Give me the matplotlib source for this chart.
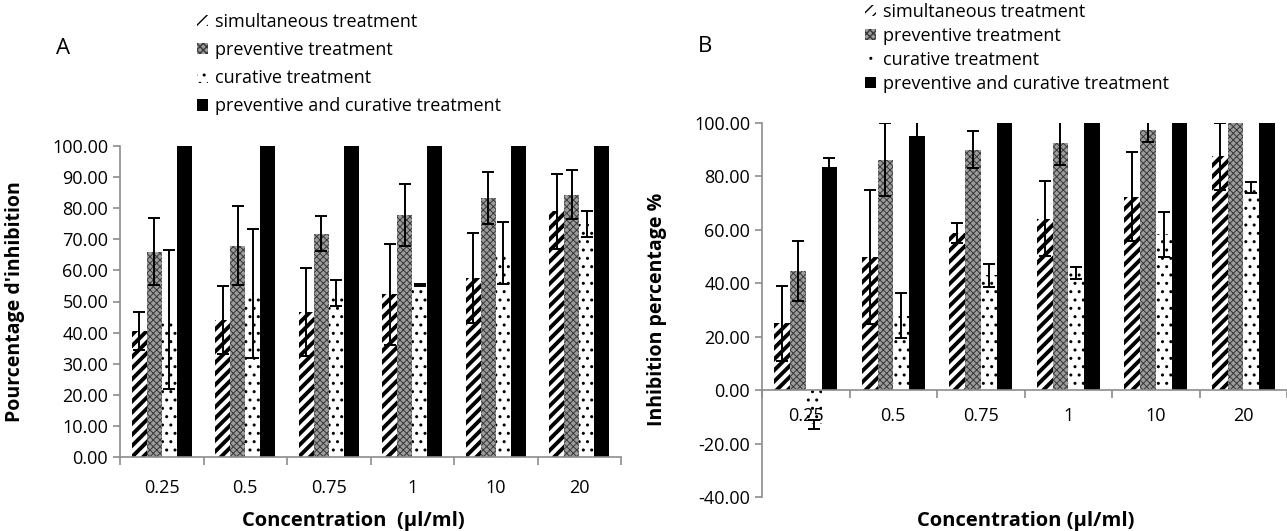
import matplotlib
matplotlib.use('Agg')
import matplotlib.pyplot as plt
import numpy as np

plt.rcParams['font.family'] = ['Open Sans', 'DejaVu Sans']

cats = ['0.25', '0.5', '0.75', '1', '10', '20']
labels = ['simultaneous treatment', 'preventive treatment',
          'curative treatment', 'preventive and curative treatment']

# panel A
sim_a = [40.6, 44.0, 46.6, 52.3, 57.6, 79.0]
sim_a_err = [6.1, 11.0, 14.1, 16.2, 14.5, 12.1]
prev_a = [66.0, 68.0, 71.8, 77.7, 83.2, 84.4]
prev_a_err = [10.8, 12.8, 5.6, 10.0, 8.3, 7.8]
cur_a = [44.2, 52.6, 52.7, 55.3, 65.6, 75.0]
cur_a_err = [22.3, 20.8, 4.2, 0.2, 10.0, 4.2]
pc_a = [100, 100, 100, 100, 100, 100]
pc_a_err = [0, 0, 0, 0, 0, 0]

# panel B
sim_b = [25.0, 49.8, 58.8, 64.2, 72.4, 87.5]
sim_b_err = [14.0, 25.0, 3.9, 14.0, 16.7, 12.5]
prev_b = [44.5, 86.3, 90.0, 92.5, 97.2, 100.0]
prev_b_err = [11.2, 13.7, 6.9, 8.2, 4.4, 0]
cur_b = [-12.7, 27.8, 43.0, 43.8, 58.4, 75.9]
cur_b_err = [1.7, 8.4, 4.3, 2.2, 8.4, 2.2]
pc_b = [83.5, 95.0, 100, 100, 100, 100]
pc_b_err = [3.4, 6.0, 0, 0, 0, 0]

styles = [
    dict(facecolor='white', edgecolor='black', hatch='///', hlw=2.8),
    dict(facecolor='#9c9c9c', edgecolor='#383838', hatch='xxxxx', hlw=0.7),
    dict(facecolor='white', edgecolor='black', hatch='..', hlw=1.0),
    dict(facecolor='black', edgecolor='black', hatch=None, hlw=1.0),
]
grey = '#8c8c8c'


def draw_panel(ax, series, errs, ymin, ymax, ystep):
    x = np.arange(len(cats))
    w = 0.18
    handles = []
    for i, (vals, err) in enumerate(zip(series, errs)):
        st = styles[i]
        off = (i - 1.5) * w
        with plt.rc_context({'hatch.linewidth': st['hlw']}):
            bars = ax.bar(x + off, vals, w, color=st['facecolor'],
                          edgecolor=st['edgecolor'], hatch=st['hatch'],
                          linewidth=0, label=labels[i], zorder=2)
        for b in bars:
            if hasattr(b, 'set_hatch_linewidth'):
                b.set_hatch_linewidth(st['hlw'])
        handles.append(bars)
        err = np.array(err)
        m = err > 0
        ax.errorbar((x + off)[m], np.array(vals)[m], yerr=err[m], fmt='none',
                    ecolor='black', elinewidth=1.4, capsize=4, capthick=1.4,
                    zorder=3)
    ax.set_axisbelow(False)
    ax.set_xlim(-0.5, len(cats) - 0.5)
    ax.set_ylim(ymin, ymax)
    ax.set_yticks(np.arange(ymin, ymax + 0.1, ystep))
    ax.set_yticklabels(['%.2f' % v for v in np.arange(ymin, ymax + 0.1, ystep)])
    ax.set_xticks(x)
    ax.set_xticklabels(cats)
    ax.set_xticks(np.arange(-0.5, len(cats)), minor=True)
    ax.tick_params(axis='x', which='major', length=0, labelsize=13, pad=16)
    ax.tick_params(axis='x', which='minor', length=6, color=grey, width=1.2)
    ax.tick_params(axis='y', length=5, color=grey, width=1.2, labelsize=13)
    for s in ['top', 'right']:
        ax.spines[s].set_visible(False)
    for s in ['left', 'bottom']:
        ax.spines[s].set_color(grey)
        ax.spines[s].set_linewidth(1.2)
    return handles


fig = plt.figure(figsize=(12.87, 5.31), dpi=100)

ax_a = fig.add_axes([120 / 1287, 1 - 457 / 531, 501 / 1287, 311 / 531])
h_a = draw_panel(ax_a, [sim_a, prev_a, cur_a, pc_a],
                 [sim_a_err, prev_a_err, cur_a_err, pc_a_err], 0, 100, 10)
ax_a.set_ylabel("Pourcentage d'inhibition", fontsize=14, fontweight='bold')
ax_a.yaxis.set_label_coords(-0.19, 0.5)

ax_b = fig.add_axes([762 / 1287, 1 - 497 / 531, 525 / 1287, 374 / 531])
h_b = draw_panel(ax_b, [sim_b, prev_b, cur_b, pc_b],
                 [sim_b_err, prev_b_err, cur_b_err, pc_b_err], -40, 100, 20)
ax_b.spines['bottom'].set_position(('data', 0))
ax_b.tick_params(axis='x', which='major', pad=12)
ax_b.set_ylabel('Inhibition percentage %', fontsize=14, fontweight='bold')
ax_b.yaxis.set_label_coords(-0.181, 0.503)

fig.text(353 / 1287, 1 - 521 / 531, 'Concentration  (µl/ml)', fontsize=14.5,
         fontweight='bold', ha='center', va='center')
fig.text(1026 / 1287, 1 - 521 / 531, 'Concentration (µl/ml)', fontsize=14.5,
         fontweight='bold', ha='center', va='center')
fig.text(63 / 1287, 1 - 49 / 531, 'A', fontsize=16, ha='center', va='center')
fig.text(705 / 1287, 1 - 47 / 531, 'B', fontsize=16, ha='center', va='center')

fig.legend(handles=h_a, labels=labels, loc='upper left',
           bbox_to_anchor=(197 / 1287, 1 - 13 / 531), frameon=False,
           fontsize=13, handlelength=0.6, handleheight=0.6,
           handletextpad=0.4, labelspacing=0.56, borderpad=0, borderaxespad=0)
fig.legend(handles=h_b, labels=labels, loc='upper left',
           bbox_to_anchor=(865 / 1287, 1 - 3 / 531), frameon=False,
           fontsize=13, handlelength=0.6, handleheight=0.6,
           handletextpad=0.4, labelspacing=0.33, borderpad=0, borderaxespad=0)

fig.savefig('out.png', dpi=100)
